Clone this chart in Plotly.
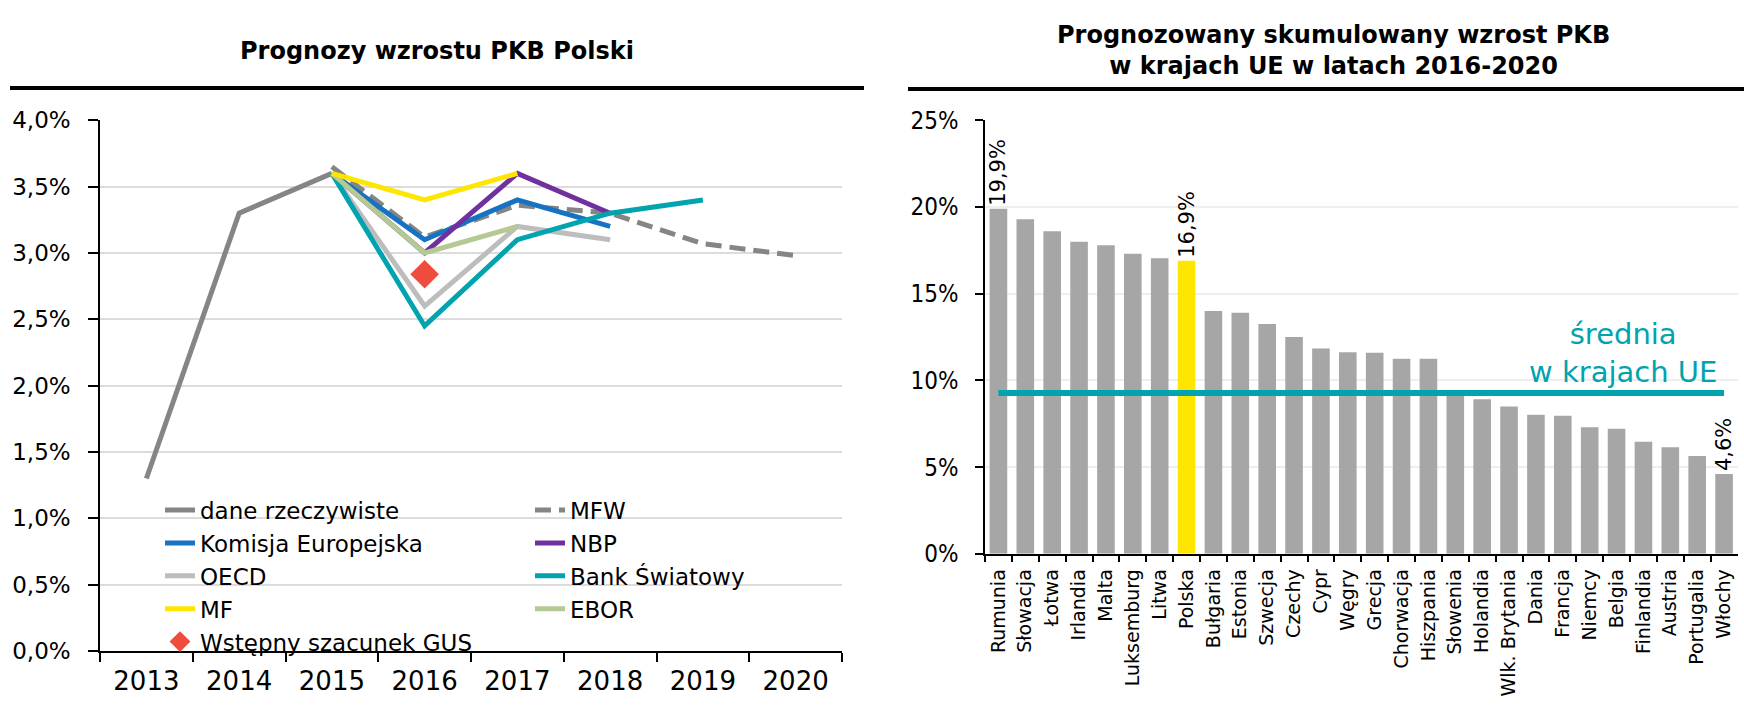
import plotly.graph_objects as go

# ---------------- Data: left chart (GDP growth forecasts for Poland, %) ----------------
years = ['2013', '2014', '2015', '2016', '2017', '2018', '2019', '2020']
actual_years = ['2013', '2014', '2015']
actual_vals = [1.3, 3.3, 3.6]
mfw_years = ['2015', '2016', '2017', '2018', '2019', '2020']
mfw_vals = [3.65, 3.12, 3.36, 3.3, 3.07, 2.98]
ke_years = ['2015', '2016', '2017', '2018']
ke_vals = [3.6, 3.1, 3.4, 3.2]
nbp_years = ['2015', '2016', '2017', '2018']
nbp_vals = [3.6, 3.0, 3.6, 3.3]
oecd_years = ['2015', '2016', '2017', '2018']
oecd_vals = [3.6, 2.6, 3.2, 3.1]
wb_years = ['2015', '2016', '2017', '2018', '2019']
wb_vals = [3.6, 2.45, 3.1, 3.3, 3.4]
mf_years = ['2015', '2016', '2017']
mf_vals = [3.6, 3.4, 3.6]
ebrd_years = ['2015', '2016', '2017']
ebrd_vals = [3.6, 3.0, 3.2]
gus_years = ['2016']
gus_vals = [2.84]

# ---------------- Data: right chart (cumulative GDP growth 2016-2020, %) ----------------
countries = ['Rumunia', 'Słowacja', 'Łotwa', 'Irlandia', 'Malta', 'Luksemburg', 'Litwa',
             'Polska', 'Bułgaria', 'Estonia', 'Szwecja', 'Czechy', 'Cypr', 'Węgry',
             'Grecja', 'Chorwacja', 'Hiszpania', 'Słowenia', 'Holandia', 'Wlk. Brytania',
             'Dania', 'Francja', 'Niemcy', 'Belgia', 'Finlandia', 'Austria',
             'Portugalia', 'Włochy']
growth = [19.9, 19.3, 18.6, 18.0, 17.8, 17.3, 17.05, 16.9, 14.0, 13.9, 13.25, 12.5, 11.84,
          11.62, 11.6, 11.25, 11.25, 9.3, 8.92, 8.5, 8.02, 7.96, 7.3, 7.22, 6.47, 6.15,
          5.65, 4.6]
labeled = {'Rumunia': '19,9%', 'Polska': '16,9%', 'Włochy': '4,6%'}
eu_avg = 9.27

FONT = "DejaVu Sans, Verdana, sans-serif"
CFONT = "DejaVu Sans Condensed, DejaVu Sans, sans-serif"
W, H = 1744, 711

GRAY = '#858585'
BLUE = '#1673C1'
PURPLE = '#7030A0'
LGRAY = '#BDBDBD'
TEAL = '#00A3AE'
YELLOW = '#FFE600'
GREEN = '#B4C994'
RED = '#F04C3E'
BARGRAY = '#A6A6A6'

fig = go.Figure()
LW = 5


def line(x, y, name, color, legend, dash='solid'):
    fig.add_trace(go.Scatter(x=x, y=y, name=name, mode='lines',
                             line=dict(color=color, width=LW, dash=dash),
                             xaxis='x', yaxis='y', legend=legend, legendgroup=name))


line(actual_years, actual_vals, 'dane rzeczywiste', GRAY, 'legend')
line(mfw_years, mfw_vals, 'MFW', GRAY, 'legend2', dash='16px,8px')
line(ke_years, ke_vals, 'Komisja Europejska', BLUE, 'legend')
line(nbp_years, nbp_vals, 'NBP', PURPLE, 'legend2')
line(oecd_years, oecd_vals, 'OECD', LGRAY, 'legend')
line(wb_years, wb_vals, 'Bank Światowy', TEAL, 'legend2')
line(ebrd_years, ebrd_vals, 'EBOR', GREEN, 'legend2')
line(mf_years, mf_vals, 'MF', YELLOW, 'legend')
fig.add_trace(go.Scatter(x=gus_years, y=gus_vals, name='Wstępny szacunek GUS', mode='markers',
                         marker=dict(symbol='diamond', size=22, color=RED),
                         xaxis='x', yaxis='y', legend='legend', legendgroup='gus'))

# Right: bars
bar_colors = [YELLOW if c == 'Polska' else BARGRAY for c in countries]
bar_text = [labeled.get(c, '') for c in countries]
fig.add_trace(go.Bar(x=countries, y=growth, marker=dict(color=bar_colors, line=dict(width=0)),
                     text=bar_text, textposition='outside', textangle=-90,
                     textfont=dict(family=FONT, size=21, color='black'),
                     constraintext='none', cliponaxis=False,
                     xaxis='x2', yaxis='y2', showlegend=False))
fig.add_trace(go.Scatter(x=countries, y=[eu_avg] * len(countries), mode='lines',
                         line=dict(color=TEAL, width=6), xaxis='x2', yaxis='y2',
                         showlegend=False))


def px(v):
    return v / W


def py(v):
    return 1 - v / H


axis_common = dict(showline=True, linecolor='black', linewidth=1.5, ticks='outside',
                   tickcolor='black', tickwidth=1.5, mirror=False, zeroline=False)

fig.update_layout(
    width=W, height=H,
    margin=dict(l=0, r=0, t=0, b=0),
    paper_bgcolor='white', plot_bgcolor='white',
    separators=', ',
    bargap=0.345,
    font=dict(family=FONT, color='black'),
    xaxis=dict(domain=[px(100), px(842)], type='category', categoryorder='array',
               categoryarray=years, range=[-0.5, 7.5], tickson='boundaries', ticklen=9,
               ticklabelstandoff=6,
               showgrid=False, tickfont=dict(size=26, family=FONT), anchor='y',
               **axis_common),
    yaxis=dict(domain=[py(663), py(110.7)], range=[0, 4.0], dtick=0.5, tickformat='.1f',
               ticksuffix='%', ticklen=10, ticklabelstandoff=13, showgrid=True,
               gridcolor='#DCDCDC', gridwidth=2,
               tickfont=dict(size=23, family=FONT), anchor='x', **axis_common),
    xaxis2=dict(domain=[px(985), px(1737.5)], type='category', categoryorder='array',
                categoryarray=countries, tickson='boundaries', ticklen=6, tickangle=-90,
                ticklabelstandoff=6,
                showgrid=False, tickfont=dict(size=19, family=FONT), anchor='y2',
                **axis_common),
    yaxis2=dict(domain=[py(562), py(110.7)], range=[0, 25], dtick=5, ticksuffix='%',
                tickformat='d', ticklen=8, ticklabelstandoff=12, showgrid=True,
                gridcolor='#EEEEEE', gridwidth=2,
                tickfont=dict(size=24, family=CFONT), anchor='x2', **axis_common),
    legend=dict(x=px(160), y=py(494), xanchor='left', yanchor='top',
                bgcolor='rgba(0,0,0,0)', font=dict(size=23, family=FONT),
                tracegroupgap=1, itemwidth=30, traceorder='normal'),
    legend2=dict(x=px(530), y=py(494), xanchor='left', yanchor='top',
                 bgcolor='rgba(0,0,0,0)', font=dict(size=23, family=FONT),
                 tracegroupgap=1, itemwidth=30, traceorder='normal'),
    shapes=[
        dict(type='line', xref='paper', yref='paper', x0=px(10), x1=px(864),
             y0=py(77), y1=py(77), line=dict(color='black', width=4)),
        dict(type='line', xref='paper', yref='paper', x0=px(908), x1=1,
             y0=py(78), y1=py(78), line=dict(color='black', width=4)),
    ],
    annotations=[
        dict(text='<b>Prognozy wzrostu PKB Polski</b>', xref='paper', yref='paper',
             x=px(437), y=py(39), xanchor='center', yanchor='middle', showarrow=False,
             font=dict(size=24, family=FONT, color='black')),
        dict(text='<b>Prognozowany skumulowany wzrost PKB<br>w krajach UE w latach 2016-2020</b>',
             xref='paper', yref='paper', x=px(1333), y=py(38), xanchor='center',
             yanchor='middle', showarrow=False,
             font=dict(size=24, family=FONT, color='black')),
        dict(text='średnia<br>w krajach UE', xref='paper', yref='paper',
             x=px(1623), y=py(353), xanchor='center', yanchor='middle', showarrow=False,
             font=dict(size=29, family=FONT, color=TEAL)),
    ],
)

fig.write_html('out.html', post_script="document.body.style.margin='0px';",
               config={'displayModeBar': False})
